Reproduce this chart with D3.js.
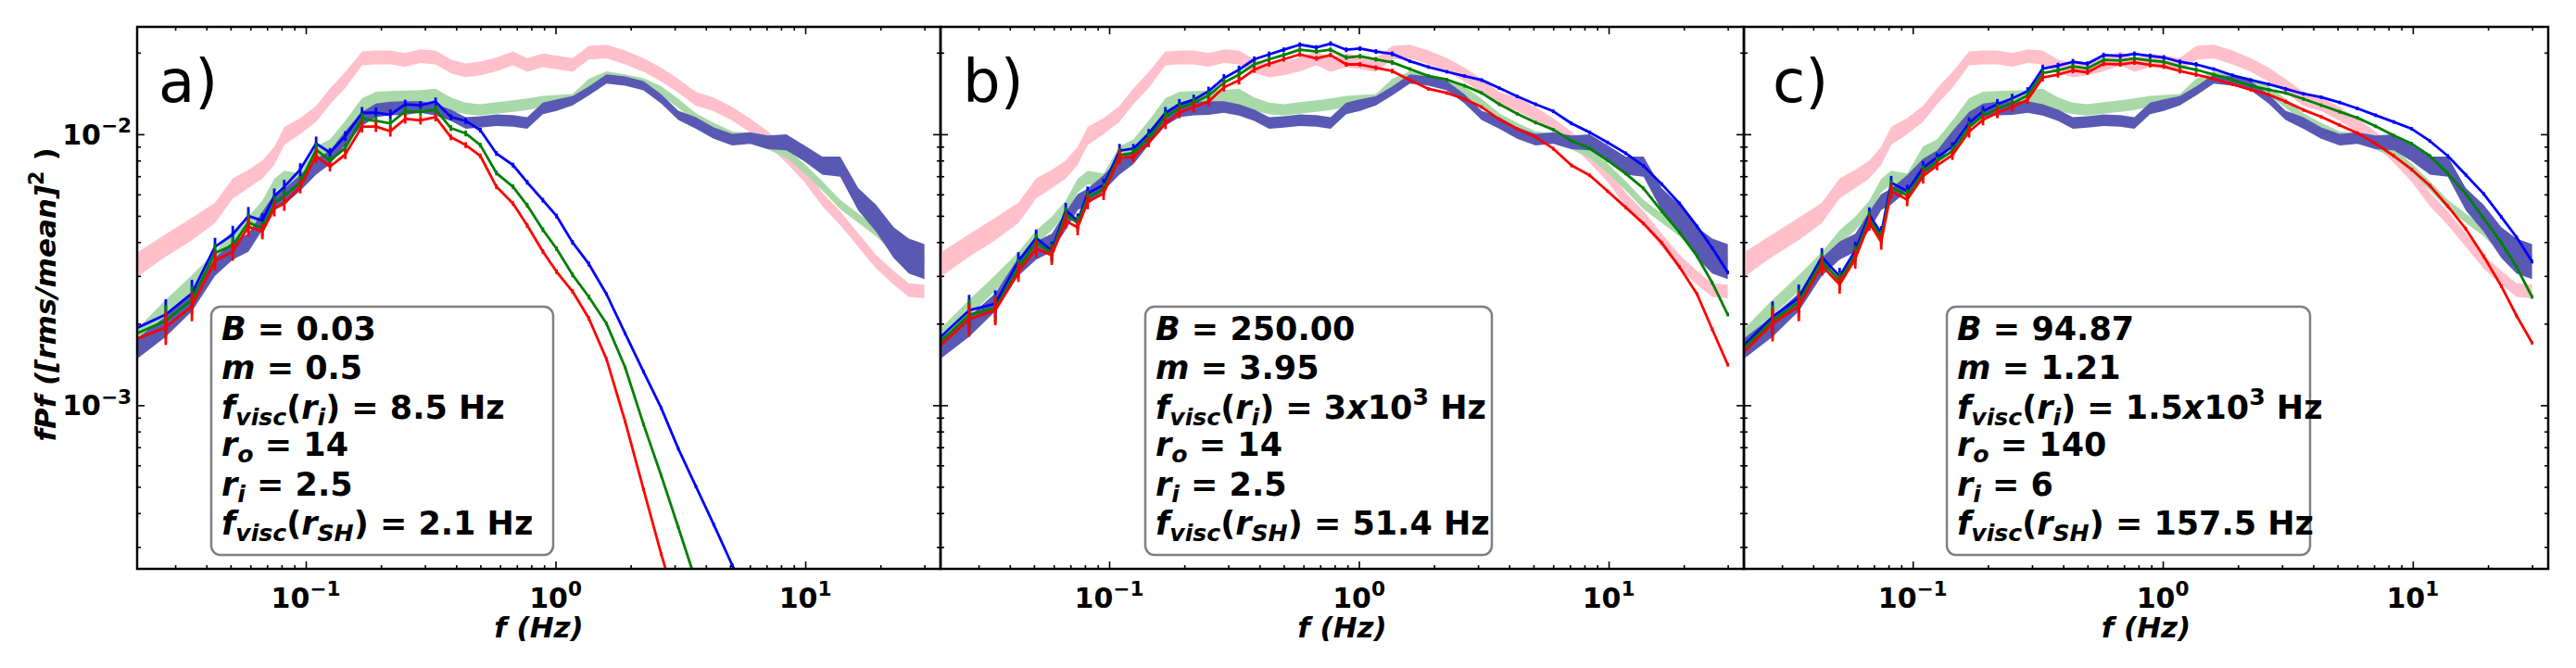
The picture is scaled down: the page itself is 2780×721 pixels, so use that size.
<!DOCTYPE html>
<html><head><meta charset="utf-8">
<script src="https://cdn.jsdelivr.net/npm/d3@7"></script>
<style>body{margin:0;background:#fff} svg{display:block} text{font-family:'DejaVu Sans',sans-serif}</style>
</head><body><svg id="c" width="2780" height="721"></svg>
<script>
// ---------- data ----------
const freq = [0.0205,0.0275,0.035,0.0433,0.051,0.0589,0.067,0.0748,0.082,0.095,
  0.110,0.125,0.144,0.168,0.191,0.218,0.25,0.288,0.331,0.381,
  0.437,0.5,0.58,0.676,0.77,0.89,1.01,1.17,1.36,1.6,
  1.9,2.25,2.65,3.1,3.65,4.3,5.1,6.0,7.1,8.4,
  9.9,11.7,13.8,16.3,19.2,22.6,26.0,30.0];

const pinkFpf = [3.24e-3,3.89e-3,4.47e-3,5.13e-3,6.31e-3,6.84e-3,7.41e-3,8.32e-3,9.86e-3,1.072e-2,
  1.19e-2,1.38e-2,1.585e-2,1.905e-2,1.92e-2,1.92e-2,1.88e-2,1.94e-2,1.92e-2,1.78e-2,
  1.72e-2,1.75e-2,1.81e-2,1.905e-2,1.80e-2,1.875e-2,1.84e-2,1.80e-2,2.00e-2,2.02e-2,
  1.92e-2,1.80e-2,1.66e-2,1.51e-2,1.35e-2,1.29e-2,1.19e-2,1.08e-2,9.66e-3,8.32e-3,
  7.08e-3,5.75e-3,4.90e-3,4.07e-3,3.39e-3,2.95e-3,2.66e-3,2.63e-3];
const pinkSpread = [1.11,1.10,1.10,1.09,1.09,1.08,1.08,1.08,1.08,1.07,
  1.07,1.07,1.07,1.06,1.06,1.06,1.06,1.06,1.06,1.06,
  1.06,1.06,1.06,1.06,1.06,1.06,1.06,1.06,1.06,1.06,
  1.06,1.06,1.06,1.06,1.06,1.06,1.06,1.06,1.06,1.06,
  1.06,1.06,1.06,1.06,1.06,1.06,1.06,1.06];

const greenFpf = [1.74e-3,2.29e-3,2.82e-3,3.47e-3,4.17e-3,4.68e-3,5.37e-3,6.46e-3,6.92e-3,6.76e-3,
  8.51e-3,9.02e-3,1.059e-2,1.27e-2,1.34e-2,1.35e-2,1.355e-2,1.36e-2,1.375e-2,1.29e-2,
  1.245e-2,1.23e-2,1.25e-2,1.27e-2,1.29e-2,1.32e-2,1.33e-2,1.34e-2,1.54e-2,1.64e-2,
  1.60e-2,1.55e-2,1.445e-2,1.30e-2,1.15e-2,1.06e-2,9.86e-3,9.68e-3,9.12e-3,8.51e-3,
  7.50e-3,6.46e-3,5.50e-3,4.90e-3,4.37e-3,3.80e-3,3.59e-3,3.47e-3];
const greenSpread = [1.07,1.07,1.07,1.06,1.06,1.06,1.06,1.06,1.06,1.06,
  1.06,1.06,1.06,1.07,1.07,1.07,1.07,1.07,1.07,1.06,
  1.05,1.05,1.05,1.05,1.05,1.05,1.05,1.05,1.04,1.04,
  1.04,1.04,1.04,1.04,1.04,1.04,1.04,1.04,1.04,1.04,
  1.04,1.04,1.04,1.04,1.04,1.04,1.04,1.04];

const navyFpf = [1.585e-3,1.95e-3,2.40e-3,3.24e-3,3.72e-3,3.98e-3,4.79e-3,5.62e-3,5.89e-3,6.61e-3,
  7.59e-3,8.22e-3,9.68e-3,1.14e-2,1.225e-2,1.245e-2,1.25e-2,1.26e-2,1.23e-2,1.175e-2,
  1.10e-2,1.11e-2,1.127e-2,1.12e-2,1.10e-2,1.245e-2,1.28e-2,1.33e-2,1.445e-2,1.60e-2,
  1.57e-2,1.51e-2,1.35e-2,1.175e-2,1.10e-2,1.01e-2,9.55e-3,9.68e-3,9.33e-3,9.33e-3,
  8.51e-3,7.66e-3,7.59e-3,5.75e-3,4.90e-3,3.98e-3,3.55e-3,3.39e-3];
const navySpread = [1.09,1.09,1.08,1.08,1.08,1.08,1.08,1.07,1.07,1.07,
  1.07,1.06,1.06,1.06,1.06,1.06,1.06,1.05,1.05,1.05,
  1.05,1.05,1.05,1.05,1.05,1.05,1.05,1.04,1.04,1.04,
  1.04,1.04,1.04,1.04,1.05,1.05,1.05,1.05,1.06,1.07,
  1.07,1.08,1.09,1.10,1.12,1.14,1.16,1.16];

const modelErr = [0.13,0.14,0.12,0.08,0.075,0.08,0.065,0.065,0.06,0.055,
  0.06,0.04,0.04,0.05,0.045,0.045,0.04,0.035,0.035,0.025,
  0.025,0.02,0.02,0.02,0.02,0.02,0.02,0.02,0.02,0.015,
  0.015,0.015,0.015,0.015,0.015,0.015,0.015,0.015,0.015,0.015,
  0.015,0.015,0.015,0.015,0.015,0.015,0.015,0.015];

const aBlue = [1.905e-3,2.16e-3,2.59e-3,3.84e-3,4.27e-3,4.99e-3,4.80e-3,5.92e-3,6.40e-3,7.41e-3,
  9.25e-3,8.55e-3,9.86e-3,1.20e-2,1.20e-2,1.18e-2,1.29e-2,1.28e-2,1.32e-2,1.156e-2,
  1.12e-2,1.035e-2,8.49e-3,7.69e-3,6.65e-3,5.71e-3,4.99e-3,3.99e-3,3.32e-3,2.57e-3,
  1.84e-3,1.33e-3,9.77e-4,6.92e-4,5.01e-4,3.63e-4,2.57e-4,1.86e-4,null,null,
  null,null,null,null,null,null,null,null];
const aGreen = [1.82e-3,2.05e-3,2.45e-3,3.65e-3,3.89e-3,4.73e-3,4.49e-3,5.55e-3,5.92e-3,6.65e-3,
  8.77e-3,8.0e-3,8.89e-3,1.14e-2,1.12e-2,1.096e-2,1.216e-2,1.208e-2,1.233e-2,1.054e-2,
  1.007e-2,9.12e-3,7.19e-3,6.40e-3,5.47e-3,4.44e-3,3.78e-3,3.03e-3,2.51e-3,2.0e-3,
  1.38e-3,8.51e-4,5.50e-4,3.55e-4,2.24e-4,1.41e-4,null,null,null,null,
  null,null,null,null,null,null,null,null];
const aRed = [1.74e-3,1.94e-3,2.32e-3,3.41e-3,3.69e-3,4.55e-3,4.38e-3,5.32e-3,5.55e-3,6.40e-3,
  8.32e-3,7.59e-3,8.43e-3,1.067e-2,1.067e-2,1.026e-2,1.14e-2,1.125e-2,1.156e-2,9.75e-3,
  9.12e-3,8.32e-3,6.40e-3,5.55e-3,4.61e-3,3.69e-3,3.11e-3,2.63e-3,2.09e-3,1.48e-3,
  8.71e-4,4.90e-4,2.82e-4,1.74e-4,null,null,null,null,null,null,
  null,null,null,null,null,null,null,null];

const bBlue = [1.74e-3,2.24e-3,2.37e-3,3.40e-3,4.14e-3,3.72e-3,5.24e-3,4.79e-3,6.05e-3,6.50e-3,
  8.69e-3,8.85e-3,1.005e-2,1.20e-2,1.29e-2,1.34e-2,1.44e-2,1.61e-2,1.73e-2,1.89e-2,
  1.97e-2,2.05e-2,2.14e-2,2.09e-2,2.16e-2,2.05e-2,2.07e-2,2.02e-2,1.98e-2,1.86e-2,
  1.77e-2,1.70e-2,1.64e-2,1.585e-2,1.48e-2,1.38e-2,1.29e-2,1.216e-2,1.096e-2,1.016e-2,
  9.33e-3,8.51e-3,7.64e-3,6.55e-3,5.56e-3,4.57e-3,3.80e-3,3.09e-3];
const bGreen = [1.67e-3,2.16e-3,2.28e-3,3.21e-3,3.99e-3,3.65e-3,5.05e-3,4.70e-3,5.83e-3,6.27e-3,
  8.38e-3,8.53e-3,9.68e-3,1.16e-2,1.247e-2,1.306e-2,1.39e-2,1.55e-2,1.66e-2,1.81e-2,
  1.89e-2,1.96e-2,2.05e-2,2.02e-2,2.05e-2,1.92e-2,1.94e-2,1.89e-2,1.84e-2,1.74e-2,
  1.64e-2,1.59e-2,1.51e-2,1.42e-2,1.29e-2,1.19e-2,1.104e-2,1.04e-2,9.46e-3,8.87e-3,
  8.0e-3,7.16e-3,6.31e-3,5.20e-3,4.35e-3,3.55e-3,2.83e-3,2.16e-3];
const bRed = [1.62e-3,2.08e-3,2.24e-3,3.10e-3,3.78e-3,3.58e-3,4.79e-3,4.53e-3,5.62e-3,6.05e-3,
  8.22e-3,8.22e-3,9.33e-3,1.10e-2,1.20e-2,1.26e-2,1.32e-2,1.49e-2,1.58e-2,1.73e-2,
  1.82e-2,1.89e-2,1.97e-2,1.905e-2,1.96e-2,1.81e-2,1.81e-2,1.76e-2,1.71e-2,1.585e-2,
  1.47e-2,1.42e-2,1.35e-2,1.26e-2,1.135e-2,1.047e-2,9.77e-3,8.85e-3,7.67e-3,7.05e-3,
  6.17e-3,5.37e-3,4.68e-3,3.98e-3,3.24e-3,2.57e-3,1.905e-3,1.41e-3];

const cBlue = [1.62e-3,2.12e-3,2.49e-3,3.52e-3,2.99e-3,3.72e-3,5.05e-3,4.30e-3,6.62e-3,6.17e-3,
  7.52e-3,8.22e-3,8.99e-3,1.10e-2,1.216e-2,1.29e-2,1.355e-2,1.44e-2,1.746e-2,1.79e-2,
  1.85e-2,1.82e-2,1.96e-2,1.945e-2,1.98e-2,1.945e-2,1.92e-2,1.85e-2,1.81e-2,1.74e-2,
  1.65e-2,1.585e-2,1.53e-2,1.47e-2,1.41e-2,1.37e-2,1.31e-2,1.245e-2,1.175e-2,1.11e-2,
  1.047e-2,9.44e-3,8.32e-3,7.08e-3,6.03e-3,4.95e-3,4.17e-3,3.39e-3];
const cGreen = [1.585e-3,2.05e-3,2.40e-3,3.39e-3,2.88e-3,3.59e-3,4.88e-3,4.15e-3,6.38e-3,5.94e-3,
  7.24e-3,7.94e-3,8.67e-3,1.06e-2,1.17e-2,1.24e-2,1.30e-2,1.39e-2,1.68e-2,1.72e-2,
  1.78e-2,1.75e-2,1.88e-2,1.87e-2,1.905e-2,1.87e-2,1.85e-2,1.78e-2,1.73e-2,1.66e-2,
  1.585e-2,1.51e-2,1.46e-2,1.42e-2,1.35e-2,1.28e-2,1.21e-2,1.15e-2,1.07e-2,9.89e-3,
  9.23e-3,8.32e-3,7.16e-3,6.03e-3,4.90e-3,3.98e-3,3.24e-3,2.51e-3];
const cRed = [1.53e-3,2.0e-3,2.32e-3,3.27e-3,2.79e-3,3.47e-3,4.71e-3,4.01e-3,6.17e-3,5.74e-3,
  7.0e-3,7.67e-3,8.38e-3,1.023e-2,1.13e-2,1.20e-2,1.26e-2,1.34e-2,1.62e-2,1.66e-2,
  1.72e-2,1.69e-2,1.82e-2,1.81e-2,1.84e-2,1.80e-2,1.78e-2,1.71e-2,1.66e-2,1.60e-2,
  1.53e-2,1.46e-2,1.40e-2,1.32e-2,1.23e-2,1.16e-2,1.08e-2,1.01e-2,9.23e-3,8.32e-3,
  7.41e-3,6.46e-3,5.43e-3,4.47e-3,3.55e-3,2.75e-3,2.14e-3,1.70e-3];

const panelLetters = ["a)","b)","c)"];
const paramB = ["0.03","250.00","94.87"];
const paramM = ["0.5","3.95","1.21"];
const fviscRiMant = ["8.5","3","1.5"];
const fviscRiExp = [null,"3","3"];
const paramRo = ["14","14","140"];
const paramRi = ["2.5","2.5","6"];
const fviscRsh = ["2.1","51.4","157.5"];
const xMajor = [0.1, 1, 10];
const xMajorExp = ["\u22121","0","1"];
const yMajor = [1e-3, 1e-2];
const yMajorExp = ["\u22123","\u22122"];

// ---------- layout ----------
const svg = d3.select("#c");
const TOP = 29, BOT = 614;
const panelsX = [[148,1015],[1015,1882],[1882,2750]];
const boxX = [[228,597],[1236,1610],[2101,2493]];
const letterX = [171, 1039, 1913];
const lineBase = [367,409,452,492,535,577];
const models = [[aBlue,aGreen,aRed],[bBlue,bGreen,bRed],[cBlue,cGreen,cRed]];
const modelColors = ["#0000ff","#008000","#ff0000"];

const y = d3.scaleLog().domain([2.49e-4, 2.49e-2]).range([BOT, TOP]);
const isPow10 = v => Math.abs(Math.log10(v) - Math.round(Math.log10(v))) < 1e-9;

function rich(g, x, yy, parts, size, opts = {}) {
  const t = g.append("text").attr("x", x).attr("y", yy)
    .attr("font-size", size).attr("font-weight", "bold")
    .attr("text-anchor", opts.anchor || "start");
  if (opts.transform) t.attr("transform", opts.transform);
  let shift = 0;
  parts.forEach(p => {
    const target = p.sub ? size * 0.2 : p.sup ? -size * 0.42 : 0;
    const ts = t.append("tspan").attr("dy", target - shift).text(p.t);
    shift = target;
    if (p.sub || p.sup) ts.attr("font-size", size * 0.72);
    if (p.it) ts.attr("font-style", "italic");
  });
  return t;
}

panelsX.forEach(([x0, x1], pi) => {
  const x = d3.scaleLog().domain([0.02112, 34.8]).range([x0, x1]);
  const g = svg.append("g");
  const cid = "clip" + pi;
  svg.append("defs").append("clipPath").attr("id", cid)
    .append("rect").attr("x", x0).attr("y", TOP).attr("width", x1 - x0).attr("height", BOT - TOP);
  const plot = g.append("g").attr("clip-path", `url(#${cid})`);

  const band = (vals, spread, color) => {
    const area = d3.area().x((d, i) => x(freq[i]))
      .y0((d, i) => y(d / spread[i])).y1((d, i) => y(d * spread[i]));
    plot.append("path").attr("d", area(vals)).attr("fill", color).attr("stroke", "none");
  };
  band(pinkFpf, pinkSpread, "#ffc0cb");
  band(greenFpf, greenSpread, "#a9d9a9");
  band(navyFpf, navySpread, "#5959b3");

  models[pi].forEach((vals, mi) => {
    const col = modelColors[mi];
    const line = d3.line().defined(d => d != null).x((d, i) => x(freq[i])).y(d => y(d));
    plot.append("path").attr("d", line(vals)).attr("fill", "none")
      .attr("stroke", col).attr("stroke-width", 2.8).attr("stroke-linejoin", "round");
    vals.forEach((v, i) => {
      if (v == null) return;
      plot.append("line").attr("x1", x(freq[i])).attr("x2", x(freq[i]))
        .attr("y1", y(v * (1 - modelErr[i]))).attr("y2", y(v * (1 + modelErr[i])))
        .attr("stroke", col).attr("stroke-width", 2.8);
    });
  });

  // parameter box
  const [bx0, bx1] = boxX[pi];
  g.append("rect").attr("x", bx0).attr("y", 331).attr("width", bx1 - bx0).attr("height", 268)
    .attr("rx", 10).attr("fill", "#fff").attr("stroke", "#808080").attr("stroke-width", 2.5);
  const tx = bx0 + 11, fs = 35;
  rich(g, tx, lineBase[0], [{t:"B", it:true},{t:" = " + paramB[pi]}], fs);
  rich(g, tx, lineBase[1], [{t:"m", it:true},{t:" = " + paramM[pi]}], fs);
  const fri = [{t:"f", it:true},{t:"visc", it:true, sub:true},{t:"("},{t:"r", it:true},{t:"i", it:true, sub:true},{t:") = " + fviscRiMant[pi]}];
  if (fviscRiExp[pi]) fri.push({t:"x", it:true},{t:"10"},{t:fviscRiExp[pi], sup:true},{t:" Hz"});
  else fri.push({t:" Hz"});
  rich(g, tx, lineBase[2], fri, fs);
  rich(g, tx, lineBase[3], [{t:"r", it:true},{t:"o", it:true, sub:true},{t:" = " + paramRo[pi]}], fs);
  rich(g, tx, lineBase[4], [{t:"r", it:true},{t:"i", it:true, sub:true},{t:" = " + paramRi[pi]}], fs);
  rich(g, tx, lineBase[5], [{t:"f", it:true},{t:"visc", it:true, sub:true},{t:"("},{t:"r", it:true},{t:"SH", it:true, sub:true},{t:") = " + fviscRsh[pi] + " Hz"}], fs);

  // panel letter
  g.append("text").attr("x", letterX[pi]).attr("y", 110).attr("font-size", 64).text(panelLetters[pi]);

  // ticks (inward, all sides)
  const xMinor = x.ticks().filter(v => !isPow10(v));
  const yMinor = y.ticks().filter(v => !isPow10(v));
  const axes = g.append("g").attr("class", "axes");
  const addAxis = (axis, tr) => {
    const a = axes.append("g").attr("transform", tr).call(axis);
    a.select(".domain").remove();
    a.selectAll(".tick line").attr("stroke", "#000").attr("stroke-width", 1.6);
  };
  addAxis(d3.axisBottom(x).tickValues(xMinor).tickSize(-4).tickFormat(""), `translate(0,${BOT})`);
  addAxis(d3.axisBottom(x).tickValues(xMajor).tickSize(-8).tickFormat(""), `translate(0,${BOT})`);
  addAxis(d3.axisTop(x).tickValues(xMinor).tickSize(-4).tickFormat(""), `translate(0,${TOP})`);
  addAxis(d3.axisTop(x).tickValues(xMajor).tickSize(-8).tickFormat(""), `translate(0,${TOP})`);
  addAxis(d3.axisLeft(y).tickValues(yMinor).tickSize(-4).tickFormat(""), `translate(${x0},0)`);
  addAxis(d3.axisLeft(y).tickValues(yMajor).tickSize(-8).tickFormat(""), `translate(${x0},0)`);
  addAxis(d3.axisRight(y).tickValues(yMinor).tickSize(-4).tickFormat(""), `translate(${x1},0)`);
  addAxis(d3.axisRight(y).tickValues(yMajor).tickSize(-8).tickFormat(""), `translate(${x1},0)`);

  g.append("rect").attr("x", x0).attr("y", TOP).attr("width", x1 - x0).attr("height", BOT - TOP)
    .attr("fill", "none").attr("stroke", "#000").attr("stroke-width", 2.5);

  // x tick labels
  xMajor.forEach((v, k) => {
    rich(g, x(v), 656, [{t:"10"},{t:xMajorExp[k], sup:true}], 30, {anchor:"middle"});
  });
  // x label
  rich(g, (x0 + x1) / 2, 688, [{t:"f (Hz)", it:true}], 31, {anchor:"middle"});

  if (pi === 0) {
    yMajor.forEach((v, k) => {
      rich(g, x0 - 6, y(v) + 11, [{t:"10"},{t:yMajorExp[k], sup:true}], 30, {anchor:"end"});
    });
    rich(g, 0, 0, [{t:"fPf ([rms/mean]", it:true},{t:"2", sup:true},{t:" )"}], 31,
      {anchor:"middle", transform:"translate(60,318) rotate(-90)"});
  }
});
</script>
</body></html>
